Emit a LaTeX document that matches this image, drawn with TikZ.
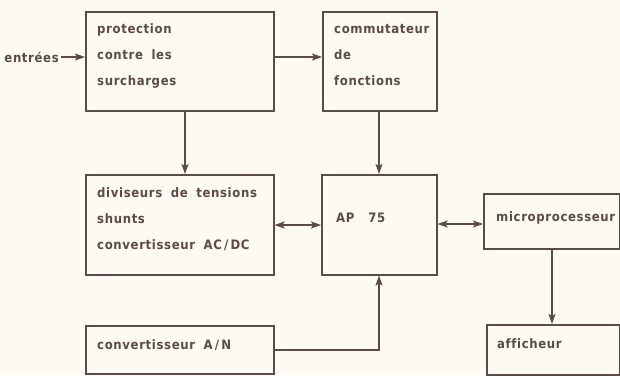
\documentclass[tikz,border=0pt]{standalone}
\usepackage{fontspec}
\setmainfont{DejaVu Sans Condensed}[LetterSpace=5,Ligatures={NoCommon},WordSpace=1.8]
\usetikzlibrary{arrows.meta}
\definecolor{ink}{HTML}{5E4A4A}
\definecolor{paper}{HTML}{FCFAF2}
\begin{document}
\begin{tikzpicture}[x=1pt,y=-1pt,
  box/.style={draw=ink, line width=1.5pt, anchor=north west, inner sep=0pt},
  lbl/.style={text=ink, font=\bfseries\fontsize{13}{26}\selectfont, anchor=west, inner sep=0pt, align=left},
  tip/.tip={Stealth[length=10pt,width=7pt,inset=2pt]},
  conn/.style={draw=ink, line width=1.5pt, -tip},
  bconn/.style={draw=ink, line width=1.5pt, tip-tip}]
\fill[paper] (0,0) rectangle (620,375);
\useasboundingbox (0,0) rectangle (620,375);
% boxes
\node[box, minimum width=188pt, minimum height=99pt] (prot) at (85,11) {};
\node[box, minimum width=114pt, minimum height=99pt] (comm) at (322,11) {};
\node[box, minimum width=188pt, minimum height=100pt] (div) at (85,174) {};
\node[box, minimum width=115pt, minimum height=100pt] (ap) at (321,174) {};
\node[box, minimum width=136pt, minimum height=55pt] (micro) at (483,193) {};
\node[box, minimum width=133pt, minimum height=50pt] (aff) at (486,324) {};
\node[box, minimum width=188pt, minimum height=48pt] (an) at (85,325) {};
% labels
\node[lbl] (tprot) at (97,56) {protection\\contre les\\surcharges};
\node[lbl] (tcomm) at (334,55) {commutateur\\de\\fonctions};
\node[lbl] (tdiv) at (97,219) {diviseurs de tensions\\shunts\\convertisseur AC\,/\,DC};
\node[lbl] (tap) at (336,218) {AP\hspace{14pt}75};
\node[lbl] (tmicro) at (496,218) {microprocesseur};
\node[lbl] (taff) at (497,344) {afficheur};
\node[lbl] (tan) at (97,345) {convertisseur A\,/\,N};
\node[lbl, anchor=east] (tin) at (59,57) {entrées};
% connectors
\draw[conn] (tin.east) ++(2pt,0) -- (prot.west |- tin.east);
\draw[conn] (prot.east |- 0,57) -- (comm.west |- 0,57);
\draw[conn] (prot.south -| 185,0) -- (div.north -| 185,0);
\draw[conn] (comm.south -| 379,0) -- (ap.north -| 379,0);
\draw[bconn] (div.east |- 0,225) -- (ap.west |- 0,225);
\draw[bconn] (ap.east |- 0,224) -- (micro.west |- 0,224);
\draw[conn] (micro.south -| 552,0) -- (aff.north -| 552,0);
\draw[conn] (an.east |- 0,350) -| (ap.south -| 379,0);
\end{tikzpicture}
\end{document}
